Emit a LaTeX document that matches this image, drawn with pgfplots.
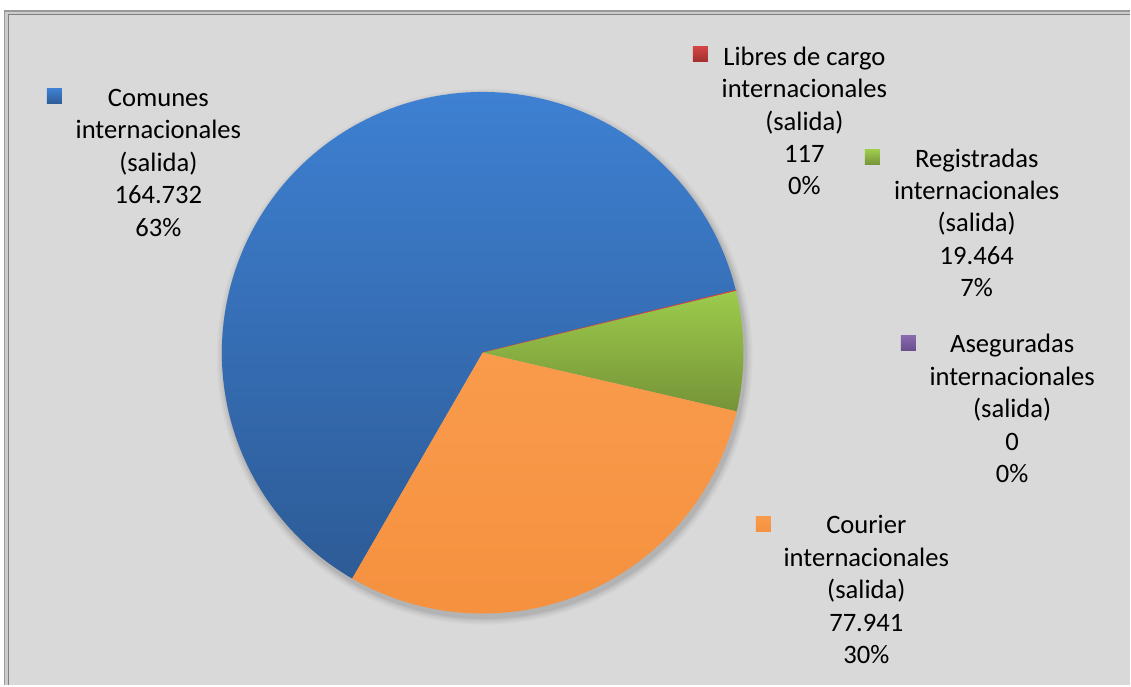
\documentclass[border=0pt]{standalone}
\usepackage{pgfplots}
\pgfplotsset{compat=1.18}
\usepackage{fontspec}
\setmainfont{Carlito}
\definecolor{bg}{HTML}{D9D9D9}
\definecolor{frameA}{HTML}{999999}
\definecolor{frameB}{HTML}{808080}
\definecolor{blueT}{HTML}{3E80D2}
\definecolor{blueB}{HTML}{2D5B96}
\definecolor{redT}{HTML}{D04544}
\definecolor{redB}{HTML}{A0302E}
\definecolor{greenT}{HTML}{9DCB4C}
\definecolor{greenB}{HTML}{759338}
\definecolor{orangeT}{HTML}{F99B4C}
\definecolor{orangeB}{HTML}{F5913F}
\definecolor{purpleT}{HTML}{8A6AB0}
\definecolor{purpleB}{HTML}{6A4F8C}
\definecolor{shadow}{HTML}{8C8C8C}
\begin{document}
\begin{tikzpicture}
% values (thousands)
\pgfmathsetmacro{\vA}{164.732}% Comunes
\pgfmathsetmacro{\vB}{0.117}% Libres de cargo
\pgfmathsetmacro{\vC}{19.464}% Registradas
\pgfmathsetmacro{\vD}{0}% Aseguradas
\pgfmathsetmacro{\vE}{77.941}% Courier
\pgfmathsetmacro{\tot}{\vA+\vB+\vC+\vD+\vE}
\pgfmathsetmacro{\aO}{240}
\pgfmathsetmacro{\aA}{\aO-(\vA/\tot)*360}
\pgfmathsetmacro{\aB}{\aA-(\vB/\tot)*360}
\pgfmathsetmacro{\aC}{\aB-(\vC/\tot)*360}
\pgfmathsetmacro{\aD}{\aC-(\vD/\tot)*360}
\pgfmathsetmacro{\aE}{\aD-(\vE/\tot)*360}
\begin{axis}[scale only axis, width=565.5pt, height=343pt,
  xmin=0, xmax=1131, ymin=0, ymax=686, y dir=reverse,
  hide axis, clip=false]
% background & frame
\fill[white] (axis cs:0,0) rectangle (axis cs:1131,686);
\fill[black!20] (axis cs:4,10) rectangle (axis cs:1131,686);
\draw[frameA, line width=0.9pt] (axis cs:4.5,686) -- (axis cs:4.5,10.8) -- (axis cs:1131,10.8);
\draw[frameB, line width=0.9pt] (axis cs:8.5,686) -- (axis cs:8.5,14.5) -- (axis cs:1131,14.5);
\fill[bg] (axis cs:9.4,15.4) rectangle (axis cs:1131,686);
% soft shadow
\fill[shadow, opacity=0.08] (axis cs:485,357) circle[radius=134pt];
\fill[shadow, opacity=0.12] (axis cs:485,357) circle[radius=133pt];
\fill[shadow, opacity=0.16] (axis cs:485,357) circle[radius=132pt];
\fill[shadow, opacity=0.22] (axis cs:485,357) circle[radius=131.2pt];
% slices
\addplot[draw=none, top color=blueT, bottom color=blueB, domain=\aA:\aO, samples=160, variable=\t]
  ({483+261*cos(t)},{353-261*sin(t)}) -- (axis cs:483,353) -- cycle;
\addplot[draw=redT, line width=0.4pt, fill=redT, domain=\aB:\aA, samples=3, variable=\t]
  ({483+261*cos(t)},{353-261*sin(t)}) -- (axis cs:483,353) -- cycle;
\addplot[draw=none, top color=greenT, bottom color=greenB, domain=\aC:\aB, samples=30, variable=\t]
  ({483+261*cos(t)},{353-261*sin(t)}) -- (axis cs:483,353) -- cycle;
\addplot[draw=none, top color=orangeT, bottom color=orangeB, domain=\aE:\aD, samples=90, variable=\t]
  ({483+261*cos(t)},{353-261*sin(t)}) -- (axis cs:483,353) -- cycle;
% labels
\tikzset{lab/.style={align=center, inner sep=0pt, font=\fontsize{13.3}{16.25}\selectfont, text=black},
  key/.style={minimum size=7.5pt, inner sep=0pt, draw=none}}
\node[lab] at (axis cs:158.5,163) {Comunes\\internacionales\\(salida)\\164.732\\63\%};
\node[key, top color=blueT, bottom color=blueB] at (axis cs:54.5,96.5) {};
\node[lab] at (axis cs:805,121) {Libres de cargo\\internacionales\\(salida)\\117\\0\%};
\node[key, top color=redT, bottom color=redB] at (axis cs:701,54.5) {};
\node[lab] at (axis cs:977.5,223) {Registradas\\internacionales\\(salida)\\19.464\\7\%};
\node[key, top color=greenT, bottom color=greenB] at (axis cs:873,157.5) {};
\node[lab] at (axis cs:1013,409) {Aseguradas\\internacionales\\(salida)\\0\\0\%};
\node[key, top color=purpleT, bottom color=purpleB] at (axis cs:909,343) {};
\node[lab] at (axis cs:867,590) {Courier\\internacionales\\(salida)\\77.941\\30\%};
\node[key, top color=orangeT, bottom color=orangeB] at (axis cs:764,524) {};
\end{axis}
\end{tikzpicture}
\end{document}
